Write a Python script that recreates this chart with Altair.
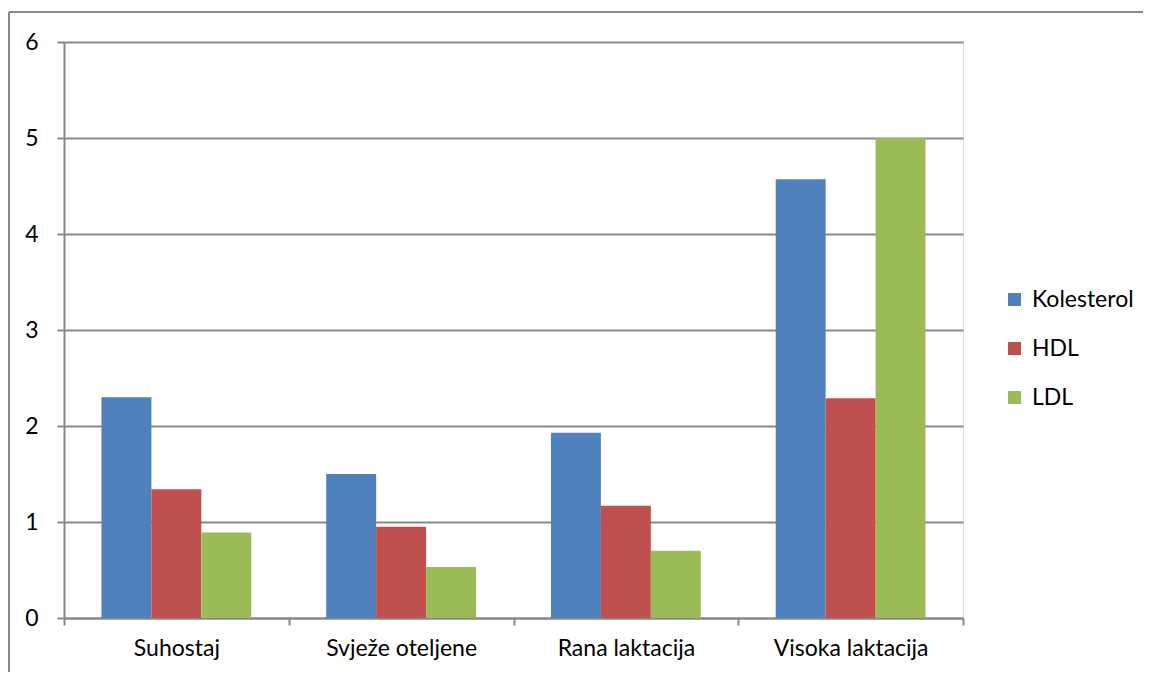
import altair as alt
import pandas as pd

categories = ["Suhostaj", "Svježe oteljene", "Rana laktacija", "Visoka laktacija"]
series = ["Kolesterol", "HDL", "LDL"]
kolesterol = [2.30, 1.50, 1.93, 4.57]
hdl = [1.34, 0.95, 1.17, 2.29]
ldl = [0.89, 0.53, 0.70, 5.00]
y_ticks = [0, 1, 2, 3, 4, 5, 6]
colors = ["#4F81BD", "#C0504D", "#9BBB59"]

rows = []
for s, vals in zip(series, [kolesterol, hdl, ldl]):
    for c, v in zip(categories, vals):
        rows.append({"kategorija": c, "serija": s, "vrijednost": v})
df = pd.DataFrame(rows)

FONT = "Lato"
FS = 23
GRAY = "#888888"

bars = alt.Chart(df).mark_bar().encode(
    x=alt.X("kategorija:N", sort=categories,
            scale=alt.Scale(paddingInner=0, paddingOuter=0),
            axis=alt.Axis(title=None, labelAngle=0, tickBand="extent", grid=False,
                          domainColor=GRAY, domainWidth=2, tickColor=GRAY, tickWidth=2,
                          tickSize=7, labelPadding=12, labelFontSize=FS, labelFont=FONT,
                          labelColor="#000000")),
    xOffset=alt.XOffset("serija:N", sort=series,
                        scale=alt.Scale(paddingOuter=0.75, paddingInner=0)),
    y=alt.Y("vrijednost:Q", scale=alt.Scale(domain=[0, 6], nice=False),
            axis=alt.Axis(title=None, values=y_ticks, grid=True, gridColor=GRAY, gridWidth=2,
                          domainColor=GRAY, domainWidth=2, tickColor=GRAY, tickWidth=2,
                          tickSize=7, labelPadding=19, labelFontSize=FS, labelFont=FONT,
                          labelColor="#000000")),
    color=alt.Color("serija:N", sort=series,
                    scale=alt.Scale(domain=series, range=colors),
                    legend=alt.Legend(title=None, orient="none", legendX=939, legendY=246,
                                      symbolType="square", symbolSize=169,
                                      symbolStrokeWidth=0, labelFontSize=FS, labelFont=FONT,
                                      labelColor="#000000", rowPadding=25, labelOffset=6)),
)

frame_df = pd.DataFrame({"a": [0]})
frame_left = alt.Chart(frame_df).mark_rule(color=GRAY, strokeWidth=2, clip=False).encode(
    x=alt.value(-55), y=alt.value(-30), y2=alt.value(700))
frame_top = alt.Chart(frame_df).mark_rule(color=GRAY, strokeWidth=2, clip=False).encode(
    x=alt.value(-55), x2=alt.value(1200), y=alt.value(-30))

chart = alt.layer(bars, frame_left, frame_top).properties(
    width=899, height=576,
    autosize=alt.AutoSizeParams(type="none"),
    padding={"left": 56, "top": 34, "right": 180, "bottom": 54},
).configure_view(stroke=None).configure(background="#ffffff")

chart.save("out.html", embed_options={"renderer": "svg", "actions": False})
